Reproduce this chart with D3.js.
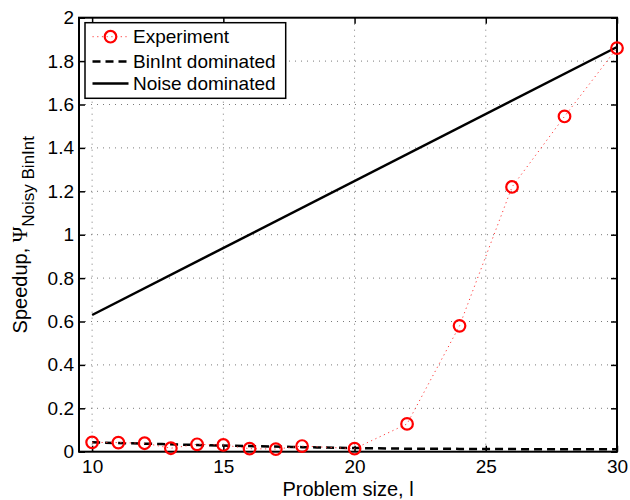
<!DOCTYPE html>
<html>
<head>
<meta charset="utf-8">
<script src="https://cdn.jsdelivr.net/npm/d3@7/dist/d3.min.js"></script>
<style>
  html, body { margin: 0; padding: 0; background: #fff; }
  svg { display: block; font-family: "Liberation Sans", Arial, Helvetica, sans-serif; }
</style>
</head>
<body>
<svg id="chart" width="630" height="500"></svg>
<script>
// Measured speedup of the noisy BinInt problem versus problem size
const expSize    = [10, 11, 12, 13, 14, 15, 16, 17, 18, 20, 22, 24, 26, 28, 30];
const expSpeedup = [0.043, 0.042, 0.039, 0.016, 0.034, 0.031, 0.014, 0.012, 0.026, 0.014, 0.128, 0.58, 1.22, 1.545, 1.86];

// Model predictions for the two limiting regimes
const binIntSize    = [10, 12, 14, 16, 18, 20, 22, 24, 26, 28, 30];
const binIntSpeedup = [0.043, 0.037, 0.031, 0.026, 0.021, 0.017, 0.014, 0.013, 0.012, 0.011, 0.011];
const noiseSize    = [10, 30];
const noiseSpeedup = [0.63, 1.865];

const xTicks = [10, 15, 20, 25, 30];
const yTicks = [0, 0.2, 0.4, 0.6, 0.8, 1, 1.2, 1.4, 1.6, 1.8, 2];
const legendLabels = ["Experiment", "BinInt dominated", "Noise dominated"];

const svg = d3.select("#chart");
const plotL = 79, plotR = 617, plotT = 17.7, plotB = 451.7;

const x = d3.scaleLinear().domain([9.5, 30]).range([plotL, plotR]);
const y = d3.scaleLinear().domain([0, 2]).range([plotB, plotT]);

// dotted grid
const grid = svg.append("g").attr("stroke", "#7a7a7a").attr("stroke-width", 1)
  .attr("stroke-dasharray", "1,5");
grid.selectAll("line.gx").data(xTicks).join("line").attr("class", "gx")
  .attr("x1", d => x(d)).attr("x2", d => x(d)).attr("y1", plotT).attr("y2", plotB);
grid.selectAll("line.gy").data(yTicks.slice(1, -1)).join("line").attr("class", "gy")
  .attr("x1", plotL).attr("x2", plotR).attr("y1", d => y(d)).attr("y2", d => y(d));

// axes with inward ticks
const tickLen = 6;
const axB = svg.append("g").attr("transform", `translate(0,${plotB})`)
  .call(d3.axisBottom(x).tickValues(xTicks).tickSizeInner(-tickLen).tickSizeOuter(0).tickPadding(8));
const axL = svg.append("g").attr("transform", `translate(${plotL},0)`)
  .call(d3.axisLeft(y).tickValues(yTicks).tickFormat(d3.format("~g")).tickSizeInner(-tickLen).tickSizeOuter(0).tickPadding(5));
const axT = svg.append("g").attr("transform", `translate(0,${plotT})`)
  .call(d3.axisTop(x).tickValues(xTicks).tickSizeInner(-tickLen).tickSizeOuter(0).tickFormat(""));
const axR = svg.append("g").attr("transform", `translate(${plotR},0)`)
  .call(d3.axisRight(y).tickValues(yTicks).tickSizeInner(-tickLen).tickSizeOuter(0).tickFormat(""));
[axB, axL, axT, axR].forEach(a => {
  a.select(".domain").remove();
  a.selectAll(".tick line").attr("stroke", "#000").attr("stroke-width", 1.5);
  a.selectAll(".tick text").attr("font-size", 19).attr("fill", "#000")
    .attr("font-family", "Liberation Sans, Arial, sans-serif");
});

// plot frame
svg.append("rect").attr("x", plotL).attr("y", plotT)
  .attr("width", plotR - plotL).attr("height", plotB - plotT)
  .attr("fill", "none").attr("stroke", "#000").attr("stroke-width", 2);

const line = d3.line().x(d => x(d[0])).y(d => y(d[1]));

// noise dominated model
svg.append("path").datum(d3.zip(noiseSize, noiseSpeedup))
  .attr("d", line).attr("fill", "none").attr("stroke", "#000").attr("stroke-width", 2.5);

// BinInt dominated model
svg.append("path").datum(d3.zip(binIntSize, binIntSpeedup))
  .attr("d", d3.line().curve(d3.curveMonotoneX).x(d => x(d[0])).y(d => y(d[1])))
  .attr("fill", "none").attr("stroke", "#000").attr("stroke-width", 2.5)
  .attr("stroke-dasharray", "8,5");

// experiment
const expData = d3.zip(expSize, expSpeedup);
svg.append("path").datum(expData)
  .attr("d", line).attr("fill", "none").attr("stroke", "#ff3b3b").attr("stroke-width", 1)
  .attr("stroke-dasharray", "1.2,3.5");
svg.append("g").selectAll("circle").data(expData).join("circle")
  .attr("cx", d => x(d[0])).attr("cy", d => y(d[1])).attr("r", 5.8)
  .attr("fill", "none").attr("stroke", "#ff0000").attr("stroke-width", 2.2);

// legend
const lg = svg.append("g");
lg.append("rect").attr("x", 85).attr("y", 22.7).attr("width", 200.7).attr("height", 75.6)
  .attr("fill", "#fff").attr("stroke", "#000").attr("stroke-width", 1.5);
const rows = [36.7, 61.5, 83.5];
const lx0 = 92.5, lx1 = 128.5;
lg.append("line").attr("x1", lx0).attr("x2", lx1).attr("y1", rows[0]).attr("y2", rows[0])
  .attr("stroke", "#ff3b3b").attr("stroke-width", 1).attr("stroke-dasharray", "1.2,3.5");
lg.append("circle").attr("cx", (lx0 + lx1) / 2).attr("cy", rows[0]).attr("r", 5.8)
  .attr("fill", "none").attr("stroke", "#ff0000").attr("stroke-width", 2.2);
lg.append("line").attr("x1", lx0).attr("x2", lx1).attr("y1", rows[1]).attr("y2", rows[1])
  .attr("stroke", "#000").attr("stroke-width", 2.5).attr("stroke-dasharray", "8,5");
lg.append("line").attr("x1", lx0).attr("x2", lx1).attr("y1", rows[2]).attr("y2", rows[2])
  .attr("stroke", "#000").attr("stroke-width", 2.5);
lg.selectAll("text").data(legendLabels).join("text")
  .attr("x", 133).attr("y", (d, i) => rows[i]).attr("dy", "0.35em")
  .attr("font-size", 19).text(d => d);

// axis titles
svg.append("text").attr("x", (plotL + plotR) / 2).attr("y", 496)
  .attr("text-anchor", "middle").attr("font-size", 20).text("Problem size, l");
const yt = svg.append("text").attr("transform", `translate(27,${(plotT + plotB) / 2}) rotate(-90)`)
  .attr("text-anchor", "middle").attr("font-size", 20);
yt.append("tspan").text("Speedup, ");
yt.append("tspan").attr("font-family", "Liberation Serif, serif").attr("font-size", 21).text("Ψ");
yt.append("tspan").attr("dy", 7).attr("font-size", 17).text("Noisy BinInt");
</script>
</body>
</html>
